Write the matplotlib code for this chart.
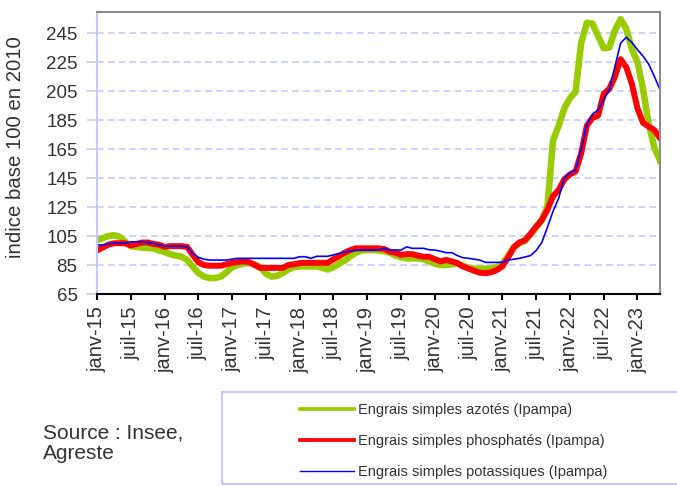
import numpy as np
import matplotlib
matplotlib.use("Agg")
import matplotlib.pyplot as plt
from matplotlib.lines import Line2D
from matplotlib.patches import Rectangle

plt.rcParams["font.family"] = ["Liberation Sans", "DejaVu Sans"]

# monthly index values, janv-15 .. mai-23
azotes = [102, 103.5, 105, 105.5, 104.5, 101, 98, 97.5, 97, 96.7,
          96.5, 95, 94, 92.5, 91.5, 90.8, 88.5, 84, 79.5, 77,
          76, 76, 77, 80, 83.5, 85, 86, 86.3, 85.5, 83.5,
          79, 77, 77.5, 79.5, 82, 83.5, 84, 84, 84, 84,
          83, 82, 83.5, 86, 88, 91, 93.5, 95, 95.3, 95.3,
          95, 94.5, 93.5, 91.5, 90.3, 89.6, 89.6, 89.6, 89, 87.5,
          86, 85, 85, 85.5, 86, 84.5, 83, 82.5, 82.5, 82.5,
          82.7, 83.5, 86, 91, 97, 100, 101.5, 106, 111, 116,
          125, 171, 181, 193, 200, 204.5, 238, 252, 251.5, 243,
          234.5, 235, 247, 254.5, 248, 234, 225, 206, 182, 166,
          157]

phosphates = [95, 97, 99, 100, 100, 100, 98.5, 99.5, 100.5, 100.5,
              99.5, 99, 97.5, 98, 98, 98, 97.5, 92, 87, 85,
              84.5, 84.5, 84.5, 85.5, 86.5, 87, 87.5, 87, 85, 83,
              83, 83, 83, 83, 85, 85.5, 86.3, 86.5, 86.5, 86.5,
              86.5, 86.5, 89, 91, 93.5, 95.3, 96.5, 96.5, 96.5, 96.5,
              96.5, 96, 94.2, 93.5, 92, 92.5, 92.5, 91.5, 90.7, 90.7,
              89, 87.5, 88.5, 87.5, 86.3, 84, 82.5, 81, 79.7, 79.3,
              80, 81.5, 84, 90, 97, 100.5, 102, 106.5, 111.5, 116,
              123, 132.5, 136.7, 144, 147.5, 149.5, 162, 181, 186.5, 188,
              203, 206.5, 215, 227, 221.5, 210, 193, 183, 180.5, 178,
              172.5]

potassiques = [98.8, 98.8, 99.5, 100, 100, 100, 101, 101, 101, 100.5,
               100, 99, 98, 98, 98, 98, 97.5, 93, 90.3, 89,
               88.4, 88.4, 88.4, 88.4, 89, 89.6, 89.6, 89.6, 89.6, 89.6,
               89.6, 89.6, 89.6, 89.6, 89.6, 89.6, 90.7, 90.7, 89.6, 91,
               91, 91, 92, 93, 94, 94.5, 95.3, 95.3, 95.3, 95.3,
               95.3, 96.5, 95.3, 95.3, 95.3, 97.5, 96.5, 96.5, 96.5, 95.5,
               95.3, 94.5, 93.5, 93.5, 91.5, 90, 89.6, 89, 88.4, 86.8,
               86.8, 86.8, 86.8, 88.4, 89, 89.6, 90.5, 91.5, 95, 100.5,
               111, 122, 131, 145, 148.5, 150.5, 165, 182, 189, 192,
               199, 206, 222, 238, 242, 238.5, 233.5, 229, 223.5, 215,
               206]

tick_labels = ["janv-15", "juil-15", "janv-16", "juil-16", "janv-17", "juil-17",
               "janv-18", "juil-18", "janv-19", "juil-19", "janv-20", "juil-20",
               "janv-21", "juil-21", "janv-22", "juil-22", "janv-23"]
series_names = ["Engrais simples azotés (Ipampa)",
                "Engrais simples phosphatés (Ipampa)",
                "Engrais simples potassiques (Ipampa)"]

months = np.arange(len(azotes))
txt = "#333333"

fig = plt.figure(figsize=(6.77, 4.86), dpi=100)
ax = fig.add_axes([97 / 677, 1 - 294 / 486, 563 / 677, 282 / 486])

ax.plot(months, azotes, color="#99CC00", lw=4.7, solid_joinstyle="round")
ax.plot(months, phosphates, color="#FF0000", lw=4.3, solid_joinstyle="round")
ax.plot(months, potassiques, color="#0000FF", lw=1.2)

ax.set_xlim(0, len(azotes) - 1)
ax.set_ylim(65, 259.5)
ax.set_yticks(np.arange(65, 246, 20))
ax.set_xticks(np.arange(0, 6 * len(tick_labels), 6))
ax.set_xticklabels(tick_labels, rotation=90, fontsize=14.5, color=txt)
ax.tick_params(axis="y", labelsize=13.5, labelcolor=txt, color="#C8C8F4",
               length=7, width=1.2, pad=7)
ax.tick_params(axis="x", length=4, width=1.5, color="black", pad=5)

ax.grid(axis="y", color="#C8C8FF", lw=1.2, ls=(0, (4, 2.5)))
ax.set_axisbelow(True)
ax.spines["left"].set_color("#C8C8F4")
ax.spines["left"].set_linewidth(1.5)
ax.spines["bottom"].set_color("black")
ax.spines["bottom"].set_linewidth(1.5)
for s in ("top", "right"):
    ax.spines[s].set_color("#8C8C8C")
    ax.spines[s].set_linewidth(1.5)

ax.set_ylabel("indice base 100 en 2010", fontsize=14.7, color=txt)
ax.yaxis.set_label_coords(-0.128, 0.52)

fig.text(43 / 677, 1 - 423 / 486, "Source : Insee,\nAgreste", fontsize=15,
         color=txt, va="top", ha="left", linespacing=1.12)

# legend box runs past the right edge, as in the source
fig.add_artist(Rectangle((222 / 677, 1 - 484 / 486), 0.7, 92 / 486,
                         transform=fig.transFigure, fill=False,
                         edgecolor="#C8C8F4", lw=1.5))
handles = [Line2D([], [], color="#99CC00", lw=2.7),
           Line2D([], [], color="#FF0000", lw=2.7),
           Line2D([], [], color="#0000FF", lw=1.0)]
fig.legend(handles, series_names, loc="upper left",
           bbox_to_anchor=(293 / 677, 1 - 396 / 486), frameon=False,
           fontsize=10.5, handlelength=3.7, handletextpad=0.25,
           labelspacing=1.15, borderpad=0, labelcolor=txt)

fig.savefig("out.png", dpi=100)
